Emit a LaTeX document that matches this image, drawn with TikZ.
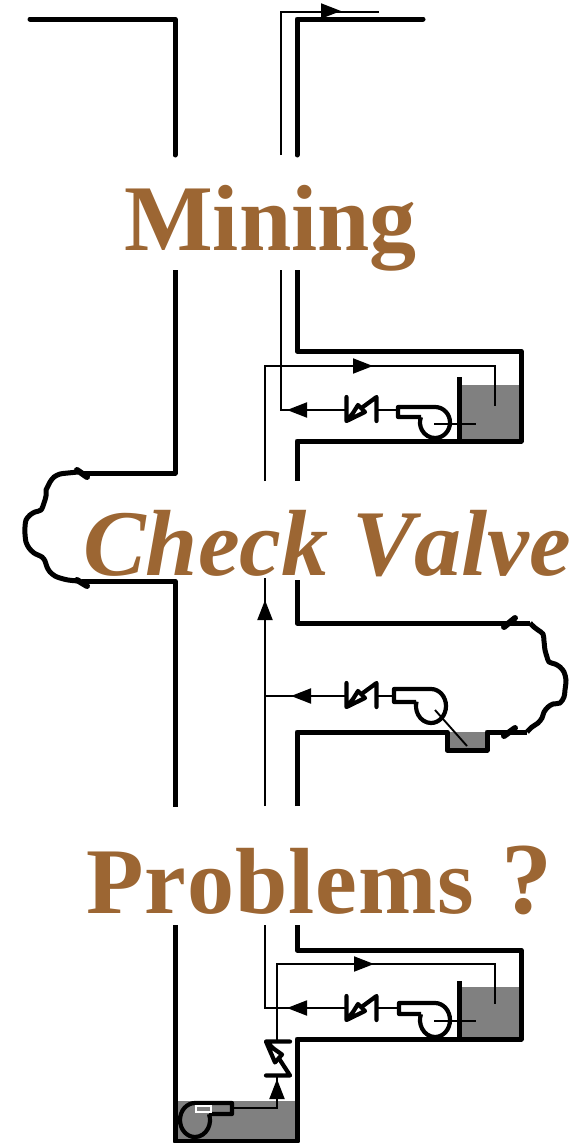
\documentclass[tikz,border=0pt]{standalone}
\usepackage{fontspec}
\setmainfont[Kerning=Off]{Liberation Serif}
\usetikzlibrary{arrows.meta}
\definecolor{titlebrown}{RGB}{156,102,51}
\definecolor{water}{RGB}{128,128,128}
\tikzset{
  pipe/.style={draw,line width=5pt,line join=round},
  tick/.style={draw,line width=6pt,line cap=round},
  thinline/.style={draw,line width=1.9pt},
  flow/.style={draw,line width=1.9pt,-{Triangle[length=20pt,width=15pt]}},
  pumpline/.style={draw,line width=4.2pt,line join=round},
  title/.style={text=titlebrown,inner sep=0pt,anchor=base west,font=\fontsize{94}{94}\selectfont\bfseries},
  pics/checkvalve/.style={code={
    \path[pumpline,line cap=round] (-15,-12) -- (-15,12) -- (-8.5,4) -- (-3.5,-4) -- (3.5,3) -- (-15,12);
    \path[pumpline,line cap=round] (0,-1) -- (15,-12) -- (15,12);
  }}
}
\begin{document}
\begin{tikzpicture}[x=1pt,y=-1pt]
  \useasboundingbox (0,0) rectangle (586,1143);
  \fill[water] (460,385) rectangle (521,441);
  \fill[water] (447,732) rectangle (487,750);
  \fill[water] (460,987) rectangle (521,1039);
  \fill[water] (175,1101) rectangle (297,1141);
  \path[pipe,line cap=round] (30,19) -- (175,19) -- (175,155);
  \path[pipe,line cap=round] (297,155) -- (297,19) -- (423,19);
  \path[pipe] (175,270) -- (175,473) -- (82,473);
  \path[pipe] (297,270) -- (297,351) -- (521,351) -- (521,441) -- (297,441) -- (297,481);
  \path[pipe] (459,377) -- (459,441);
  \path[tick] (77,470) -- (87,477);
  \path[pipe] plot[smooth,tension=0.5] coordinates {(78,472) (68,473) (60,474) (54,477) (50,482) (48,486) (46,490) (46,496) (44,503) (41,510) (35,512) (30,515) (26,520) (25,527) (25,534) (26,542) (29,548) (34,553) (42,557) (45,561) (47,567) (50,572) (55,576) (60,578) (68,580) (78,581)};
  \path[tick] (77,580) -- (87,586);
  \path[pipe] (82,581) -- (175,581) -- (175,807);
  \path[pipe] (297,580) -- (297,623) -- (530,623);
  \path[tick] (504,627) -- (515,618);
  \path[pipe] plot[smooth,tension=0.5] coordinates {(530,623) (534,627) (538,630) (543,634) (544,641) (545,650) (547,657) (549,662) (555,664) (560,667) (564,672) (566,680) (565,690) (564,697) (560,703) (553,704) (548,707) (544,712) (542,718) (538,723) (532,727) (527,732)};
  \path[pipe] (297,806) -- (297,732) -- (447,732) -- (447,750) -- (487,750) -- (487,732) -- (527,732);
  \path[tick] (504,736) -- (515,728);
  \path[pipe] (175,925) -- (175,1141) -- (297,1141) -- (297,1039) -- (521,1039) -- (521,950) -- (297,950) -- (297,925);
  \path[pipe] (459,981) -- (459,1039);
  \path[thinline] (281,155) -- (281,12) -- (379,12);
  \path[flow] (322,11) -- (341,11);
  \path[thinline] (265,481) -- (265,366) -- (495,366) -- (495,406);
  \path[flow] (354,366) -- (373,366);
  \path[thinline] (281,270) -- (281,410) -- (346,410);
  \path[flow] (306,410) -- (287,410);
  \path[thinline] (377,410) -- (398,410);
  \path[thinline] (434,424) -- (476,424);
  \path[thinline] (265,806) -- (265,578);
  \path[flow] (265,619) -- (265,600);
  \path[thinline] (265,696) -- (346,696);
  \path[flow] (310,696) -- (291,696);
  \path[thinline] (377,696) -- (394,696);
  \path[thinline] (435,710) -- (467,746);
  \path[thinline] (265,925) -- (265,1008) -- (346,1008);
  \path[flow] (306,1008) -- (287,1008);
  \path[thinline] (377,1008) -- (398,1008);
  \path[thinline] (434,1021) -- (476,1021);
  \path[thinline] (277,1041) -- (277,964) -- (495,964) -- (495,1004);
  \path[flow] (354,964) -- (374,964);
  \path[thinline] (232,1108) -- (277,1108) -- (277,1076);
  \path[flow] (277,1098) -- (277,1079);
  \pic at (361.5,409) {checkvalve};
  \pic at (361.5,695) {checkvalve};
  \pic at (361.5,1008) {checkvalve};
  \pic[rotate=-90,xscale=1.13] at (278,1058.5) {checkvalve};
  \path[pumpline] (421,417) -- (398,417) -- (398,407) -- (435,407) arc[start angle=-90,end angle=200,x radius=15,y radius=15.5];
  \path[pumpline] (416,702) -- (394,702) -- (394,689) -- (431,689) arc[start angle=-90,end angle=195,x radius=15,y radius=17];
  \path[pumpline] (421,1014) -- (399,1014) -- (399,1003) -- (435,1003) arc[start angle=-90,end angle=200,x radius=15,y radius=17];
  \path[pumpline] (209,1114) -- (232,1114) -- (232,1103) -- (195,1103) arc[start angle=-90,end angle=-380,x radius=15,y radius=17];
  \draw[white,line width=1.6pt,fill=water] (196,1106) rectangle (211,1112);
  \node[title] (mining) at (124,250) {Mining};
  \node[title,font=\fontsize{94}{94}\selectfont\bfseries\itshape] (checkvalve) at (83,575) {Check Valve};
  \node[title] (problems) at (86,913) {\addfontfeature{LetterSpace=1.05}Problems\hspace{3pt} {\fontsize{102}{102}\selectfont ?}};
\end{tikzpicture}
\end{document}
